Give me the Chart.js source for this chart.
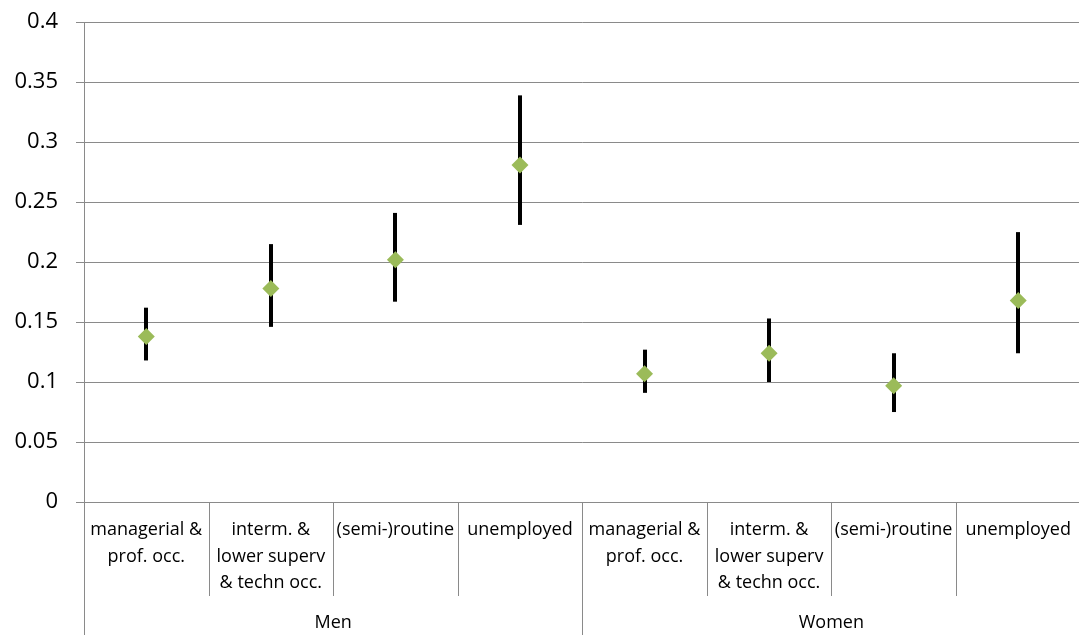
<!DOCTYPE html>
<html>
<head>
<meta charset="utf-8">
<script src="https://cdn.jsdelivr.net/npm/chart.js@4/dist/chart.umd.min.js"></script>
<style>
  html, body { margin: 0; padding: 0; background: #fff; overflow: hidden; }
  #wrap { width: 1079px; height: 635px; overflow: hidden; }
  #ciChart { display: block; margin-top: -9px; }
</style>
</head>
<body>
<div id="wrap"><canvas id="ciChart" width="1089" height="644"></canvas></div>
<script>
// category labels (multi-line) and their groups
var categories = [
    ["managerial &", "prof. occ."],
    ["interm. &", "lower superv", "& techn occ."],
    ["(semi-)routine"],
    ["unemployed"],
    ["managerial &", "prof. occ."],
    ["interm. &", "lower superv", "& techn occ."],
    ["(semi-)routine"],
    ["unemployed"]
];
var groups = ["Men", "Women"];
var groupSize = 4;

// point estimates and interval bounds
var estimate = [0.138, 0.178, 0.202, 0.281, 0.107, 0.124, 0.097, 0.168];
var upper    = [0.162, 0.215, 0.241, 0.339, 0.127, 0.153, 0.124, 0.225];
var lower    = [0.118, 0.146, 0.167, 0.231, 0.091, 0.100, 0.075, 0.124];

var gridColor = "#8a8a8a";
var fontFam = "'Open Sans', 'Liberation Sans', sans-serif";

var errorBars = {
    id: 'errorBars',
    beforeDatasetsDraw: function(chart) {
        var ctx = chart.ctx, xs = chart.scales.x, ys = chart.scales.y;
        ctx.save();
        ctx.strokeStyle = "#000";
        ctx.lineWidth = 4;
        ctx.lineCap = "butt";
        for (var i = 0; i < estimate.length; i++) {
            var x = Math.round(xs.getPixelForValue(i));
            ctx.beginPath();
            ctx.moveTo(x, ys.getPixelForValue(upper[i]));
            ctx.lineTo(x, ys.getPixelForValue(lower[i]));
            ctx.stroke();
        }
        ctx.restore();
    }
};

var catAxis = {
    id: 'catAxis',
    afterDraw: function(chart) {
        var ctx = chart.ctx, area = chart.chartArea, xs = chart.scales.x;
        var n = categories.length;
        var w = (area.right - area.left) / n;
        var h = chart.height;
        ctx.save();
        ctx.strokeStyle = gridColor;
        ctx.lineWidth = 1;
        // dividers, full height at group edges
        for (var i = 0; i <= n; i++) {
            var bx = Math.round(area.left + i * w) + 0.5;
            var bottom = (i % groupSize == 0) ? h : area.bottom + 94;
            ctx.beginPath();
            ctx.moveTo(bx, area.bottom);
            ctx.lineTo(bx, bottom);
            ctx.stroke();
        }
        ctx.fillStyle = "#000";
        ctx.textAlign = "center";
        ctx.textBaseline = "middle";
        ctx.font = "18px " + fontFam;
        for (var i = 0; i < n; i++) {
            var cx = xs.getPixelForValue(i);
            for (var j = 0; j < categories[i].length; j++) {
                ctx.fillText(categories[i][j], cx, area.bottom + 28 + j * 26.5);
            }
        }
        for (var g = 0; g < groups.length; g++) {
            var gx = area.left + (g + 0.5) * groupSize * w;
            ctx.fillText(groups[g], gx, area.bottom + 121);
        }
        ctx.restore();
    }
};

var ctx = document.getElementById("ciChart").getContext("2d");

var myChart = new Chart(ctx, {
    type: 'line',
    data: {
        labels: categories.map(function(c) { return c.join(" "); }),
        datasets: [{
            label: "estimate",
            data: estimate,
            showLine: false,
            pointStyle: 'rectRot',
            pointRadius: 8.5,
            pointHoverRadius: 8.5,
            pointBackgroundColor: "#9bbb59",
            pointBorderColor: "#9bbb59",
            pointBorderWidth: 0
        }]
    },
    options: {
        responsive: false,
        animation: false,
        events: [],
        layout: { padding: { top: 14, right: 0, left: 0, bottom: 0 } },
        plugins: {
            legend: { display: false },
            tooltip: { enabled: false }
        },
        scales: {
            x: {
                type: 'category',
                offset: true,
                grid: { display: false },
                border: { display: false },
                ticks: { display: false },
                afterFit: function(scale) { scale.height = 133; }
            },
            y: {
                min: 0,
                max: 0.4,
                ticks: {
                    stepSize: 0.05,
                    color: "#000",
                    padding: 18,
                    font: { family: fontFam, size: 22 },
                    callback: function(v) { return String(+v.toFixed(2)); }
                },
                grid: { color: gridColor, lineWidth: 1, tickLength: 8 },
                border: { color: gridColor, width: 1 },
                afterFit: function(scale) { scale.width = 84; }
            }
        }
    },
    plugins: [errorBars, catAxis]
});
</script>
</body>
</html>
